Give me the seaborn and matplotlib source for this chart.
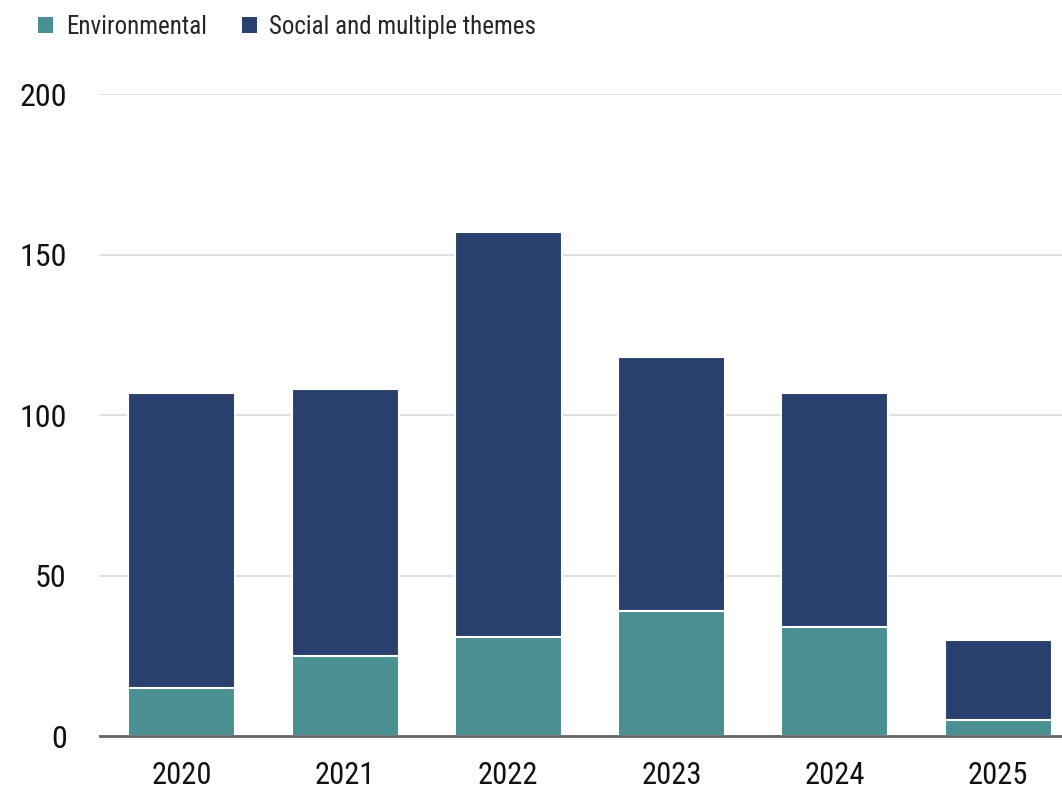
import matplotlib
matplotlib.use("Agg")
import matplotlib.pyplot as plt
import seaborn as sns
import pandas as pd
from matplotlib.patches import Patch
from matplotlib import font_manager

years = ["2020", "2021", "2022", "2023", "2024", "2025"]
environmental = [15, 25, 31, 39, 34, 5]
social_multiple = [92, 83, 126, 79, 73, 25]
y_ticks = [0, 50, 100, 150, 200]

teal = "#4A8F91"
navy = "#293F6E"

sns.set_theme(style="white")
names = {f.name for f in font_manager.fontManager.ttflist}
family = [n for n in ["Liberation Sans Narrow", "Roboto Condensed", "Roboto", "DejaVu Sans"] if n in names]
plt.rcParams["font.family"] = family

df = pd.DataFrame({
    "year": years,
    "env": environmental,
    "total": [e + s for e, s in zip(environmental, social_multiple)],
})

fig = plt.figure(figsize=(10.62, 7.94), dpi=100)
ax = fig.add_axes([0.0942, 0.073, 0.9058, 0.8086])

sns.barplot(data=df, x="year", y="total", color=navy, width=0.655,
            edgecolor="white", linewidth=1.5, saturation=1, ax=ax, zorder=3)
sns.barplot(data=df, x="year", y="env", color=teal, width=0.655,
            edgecolor="white", linewidth=1.5, saturation=1, ax=ax, zorder=4)

ax.set_xlim(-0.5, 5.39)
ax.set_ylim(0, 200)
ax.set_yticks(y_ticks)
ax.set_xlabel("")
ax.set_ylabel("")
ax.yaxis.grid(True, color="#d9d9d9", linewidth=1.2, zorder=0)
ax.set_axisbelow(True)
for s in ["top", "right", "left"]:
    ax.spines[s].set_visible(False)
ax.spines["bottom"].set_color("#666666")
ax.spines["bottom"].set_linewidth(2)
ax.spines["bottom"].set_zorder(5)
ax.tick_params(axis="y", length=0, pad=24, labelsize=23, labelcolor="#111111")
ax.tick_params(axis="x", length=0, pad=18, labelsize=22, labelcolor="#111111")

handles = [Patch(facecolor=teal, edgecolor="none"), Patch(facecolor=navy, edgecolor="none")]
fig.legend(handles, ["Environmental", "Social and multiple themes"], loc="upper left",
           bbox_to_anchor=(0.022, 1.0), ncol=2, frameon=False, fontsize=18,
           borderaxespad=0.2, handlelength=0.6, handleheight=0.6,
           handletextpad=0.5, columnspacing=1.4)

fig.savefig("out.png", dpi=100)
